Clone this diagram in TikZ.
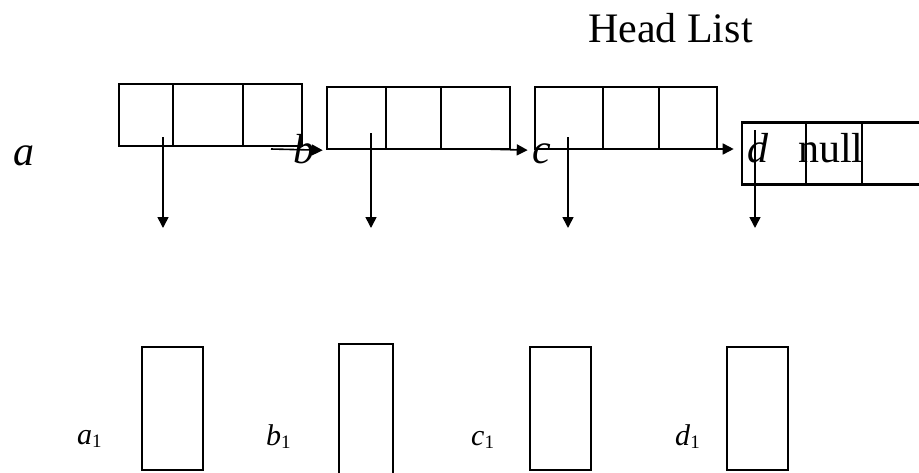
\documentclass[tikz,border=0pt]{standalone}
\usepackage{fontspec}
\setmainfont{Liberation Serif}
\usepackage{tikz}
\usetikzlibrary{arrows.meta, positioning}

\newcommand{\sublbl}[1]{\textit{#1}\raisebox{-0.12em}{\fontsize{19}{19}\selectfont 1}}

\begin{document}
\begin{tikzpicture}[
      x=1pt, y=-1pt,
      cell/.style={
         draw=black,
         line width=2.6pt,
         inner sep=0pt,
         minimum height=62pt},
      slot/.style={
         draw=black,
         line width=2.6pt,
         inner sep=0pt},
      ptr/.style={-{Triangle[length=11pt,width=11pt]}, line width=1.6pt},
      big/.style={inner sep=0pt, anchor=base west, font=\fontsize{42}{42}\selectfont},
      small/.style={inner sep=0pt, anchor=base west, font=\fontsize{30}{30}\selectfont}
      ]
      \clip (0,0) rectangle (919,472);

      \node[big] at (588, 42) (head) {Head List};

      % head records
      \foreach \n/\x/\y/\w in {% name/centre x/centre y/width
        a1/146/115/54, a2/208/115/70, a3/272.5/115/59,
        b1/356.5/118/59, b2/413.5/118/55, b3/475.5/118/69,
        c1/569/118/68, c2/631/118/56, c3/688/118/58,
        d1/774/153.5/64, d2/834/153.5/56, d3/900/153.5/76}
        \node[cell, minimum width=\w pt] at (\x, \y) (\n) {};

      \node[big] at (13, 165) (la) {\textit{a}};
      \node[big] at (293, 163) (lb) {\textit{b}};
      \node[big] at (532, 163) (lc) {\textit{c}};
      \node[big] at (747, 162) (ld) {\textit{d}};
      \node[big] at (798, 162) (nil) {null};

      % list links
      \coordinate (hb) at (271, 149);
      \coordinate (hc) at (483, 149);
      \coordinate (hd) at (689, 149);
      \draw[ptr, shorten >=3pt] (hb) -- (b1.south west);
      \draw[ptr, shorten >=6pt] (hc) -- (c1.south west);
      \draw[ptr, shorten >=7pt] (hd) -- (hd -| d1.west);

      % element records
      \node[slot, minimum width=61pt, minimum height=123pt] at (172.5, 408.5) (ra) {};
      \node[slot, minimum width=54pt, minimum height=132pt] at (366, 410) (rb) {};
      \node[slot, minimum width=61pt, minimum height=123pt] at (560.5, 408.5) (rc) {};
      \node[slot, minimum width=61pt, minimum height=123pt] at (757.5, 408.5) (rd) {};

      \node[small] at (77, 444) (la1) {\sublbl{a}};
      \node[small] at (266, 445) (lb1) {\sublbl{b}};
      \node[small] at (471, 445) (lc1) {\sublbl{c}};
      \node[small] at (675, 445) (ld1) {\sublbl{d}};

      % pointers down
      \coordinate (sa) at (163, 137);  \coordinate (ta) at (163, 228);
      \coordinate (sb) at (371, 133);  \coordinate (tb) at (371, 228);
      \coordinate (sc) at (568, 137);  \coordinate (tc) at (568, 228);
      \coordinate (sd) at (755, 130);  \coordinate (td) at (755, 228);
      \foreach \s/\t in {sa/ta, sb/tb, sc/tc, sd/td}
        \draw[ptr] (\s) -- (\t);

\end{tikzpicture}
\end{document}
